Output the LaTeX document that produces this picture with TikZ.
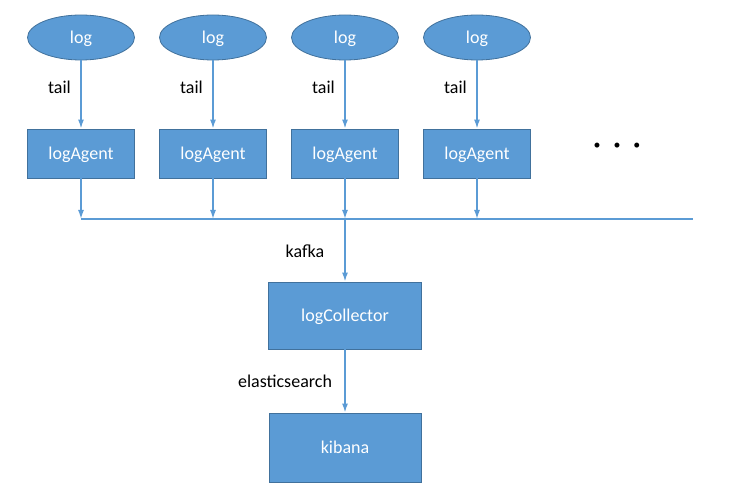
\documentclass[tikz,border=0pt]{standalone}
\usepackage{fontspec}
\setmainfont{Carlito}
\usetikzlibrary{arrows.meta,shapes.geometric}

\definecolor{boxfill}{HTML}{5B9BD5}
\definecolor{boxline}{HTML}{41719C}

\tikzset{
  logsrc/.style={ellipse,draw=boxline,fill=boxfill,line width=0.8pt,minimum width=107pt,minimum height=45pt,inner sep=0pt,text=white,font=\fontsize{18}{20}\selectfont},
  agentbox/.style={rectangle,draw=boxline,fill=boxfill,line width=0.8pt,minimum width=107pt,minimum height=49pt,inner sep=0pt,text=white,font=\fontsize{18}{20}\selectfont},
  flow/.style={draw=boxfill,line width=1.5pt,-{Latex[length=9pt,width=6pt]}},
  lbl/.style={font=\fontsize{18}{20}\selectfont,text=black,inner sep=0pt}
}

\begin{document}
\begin{tikzpicture}[x=1pt,y=-1pt,text height=2.5ex,text depth=.1ex]
  \useasboundingbox (0,0) rectangle (730,502);
  % sources and agents
  \foreach \i/\x in {1/81,2/213,3/345,4/477} {
    \node[logsrc] (log\i) at (\x,37.5) {log};
    \node[agentbox] (agent\i) at (\x,153.5) {logAgent};
    \draw[flow] (log\i) -- (agent\i);
    \node[lbl,anchor=east] (tail\i) at (\x-10,88) {tail};
    \coordinate (bus\i) at (\x,219);
    \draw[flow] (agent\i) -- (bus\i);
  }
  \node[lbl] (dots) at (617,144) {\fontsize{14}{14}\selectfont\textbullet\hspace{13pt}\textbullet\hspace{13pt}\textbullet};
  % bus
  \coordinate (busend) at (693,219);
  \draw[boxfill,line width=1.5pt] (bus1) -- (busend);
  % collector and kibana
  \node[agentbox,minimum width=153pt,minimum height=67pt] (collector) at (345,315.5) {logCollector};
  \node[agentbox,minimum width=152pt,minimum height=69pt] (kibana) at (345,447.5) {kibana};
  \draw[flow] (bus3) -- (collector);
  \node[lbl] (kafka) at (305,252) {kafka};
  \draw[flow] (collector) -- (kibana);
  \node[lbl] (es) at (285,382) {elasticsearch};
\end{tikzpicture}
\end{document}
